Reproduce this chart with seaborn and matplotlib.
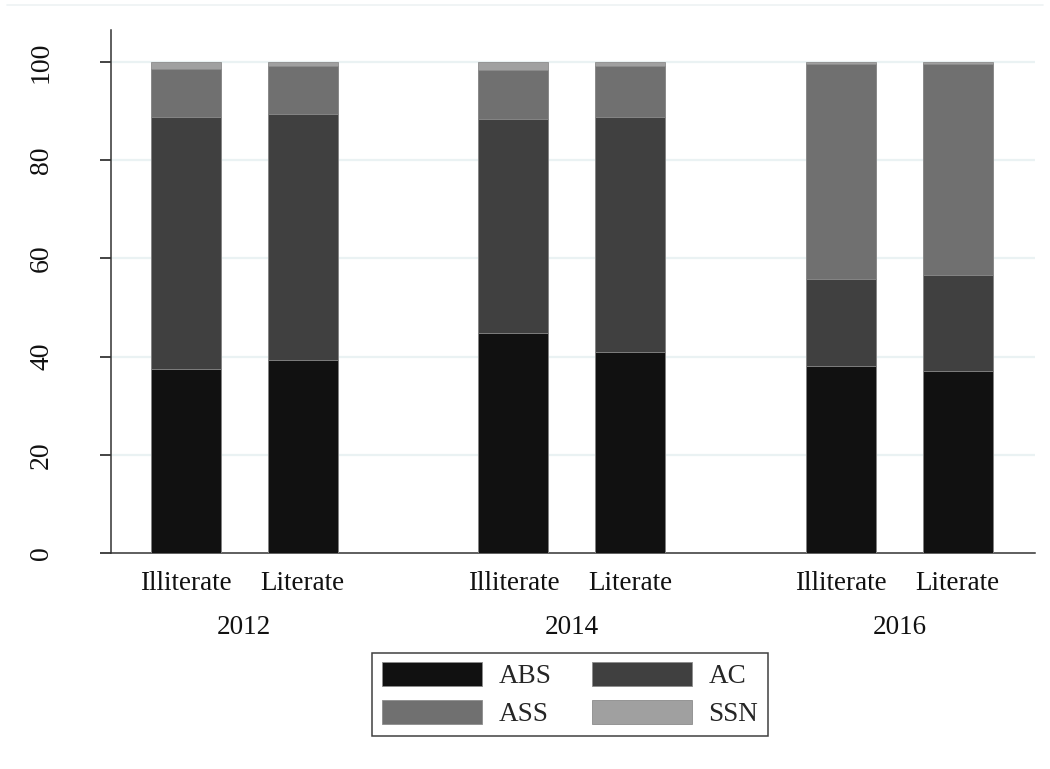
import numpy as np
import pandas as pd
import matplotlib
matplotlib.use("Agg")
import matplotlib.pyplot as plt
import seaborn as sns
from matplotlib.patches import Patch
from matplotlib.lines import Line2D

# Data: share (%) of each category by literacy status and survey year
years = ["2012", "2014", "2016"]
groups = ["Illiterate", "Literate"]
series = ["ABS", "AC", "ASS", "SSN"]
abs_vals = [37.5, 39.2, 44.9, 40.9, 38.1, 37.1]
ac_vals = [51.3, 50.2, 43.4, 47.9, 17.7, 19.5]
ass_vals = [9.8, 9.7, 10.1, 10.3, 43.8, 43.0]
ssn_vals = [1.4, 0.9, 1.6, 0.9, 0.4, 0.4]

colors = {"ABS": "#111111", "AC": "#404040", "ASS": "#707070", "SSN": "#a0a0a0"}

# Bar positions: two bars per year, with a wider gap between years
pos = [0.0, 1.0, 2.8, 3.8, 5.6, 6.6]
df = pd.DataFrame({"pos": pos, "ABS": abs_vals, "AC": ac_vals,
                   "ASS": ass_vals, "SSN": ssn_vals})
cum = df[series].cumsum(axis=1)

sns.set_theme(style="white")
plt.rcParams["font.family"] = ["Liberation Serif", "DejaVu Serif"]

fig = plt.figure(figsize=(10.5, 7.69), dpi=100)
ax = fig.add_axes([111 / 1050, (769 - 553) / 769, (1035 - 111) / 1050, (553 - 30) / 769])

# Faint outline along the top of the graph region
fig.add_artist(Line2D([7 / 1050, 1043 / 1050], [1 - 5 / 769, 1 - 5 / 769],
                      transform=fig.transFigure, color="#eef2f4", lw=1.2))

# Stacked bars: draw cumulative totals from the top layer down
for s in reversed(series):
    sns.barplot(x=df["pos"], y=cum[s], native_scale=True, width=0.6,
                color=colors[s], saturation=1, errorbar=None,
                edgecolor="#8c8c8c", linewidth=0.6, ax=ax, zorder=3)

ax.set_xlim(-0.64, 7.26)
ax.set_ylim(0, 106.5)
ax.set_yticks([0, 20, 40, 60, 80, 100])
ax.set_yticklabels(["0", "20", "40", "60", "80", "100"], rotation=90, va="center")
for y in [20, 40, 60, 80, 100]:
    ax.axhline(y, color="#eaf2f3", lw=1.6, zorder=1)

ax.set_xticks(pos)
ax.set_xticklabels(groups * 3)
ax.tick_params(axis="x", length=0, pad=13, labelsize=19.5, colors="#111111")
ax.tick_params(axis="y", length=8, width=1.1, pad=33, labelsize=20,
               colors="#111111", left=True, direction="out")
ax.set_xlabel("")
ax.set_ylabel("")

for side in ["top", "right"]:
    ax.spines[side].set_visible(False)
for side in ["left", "bottom"]:
    ax.spines[side].set_color("#333333")
    ax.spines[side].set_linewidth(1.1)

# Year labels under each pair of bars
for i, yr in enumerate(years):
    xc = (pos[2 * i] + pos[2 * i + 1]) / 2
    ax.text(xc, -75 / 523, yr, transform=ax.get_xaxis_transform(),
            ha="center", va="center", fontsize=19.5, color="#111111")

# Legend filled row by row: ABS, AC / ASS, SSN
leg_order = ["ABS", "ASS", "AC", "SSN"]
handles = [Patch(facecolor=colors[s], edgecolor="#8c8c8c", linewidth=0.6) for s in leg_order]
leg = fig.legend(handles, leg_order, loc="center", ncol=2,
                 bbox_to_anchor=(570 / 1050, 1 - 694.5 / 769),
                 fontsize=19.5, frameon=True, fancybox=False,
                 handlelength=3.7, handleheight=1.0, handletextpad=0.6,
                 columnspacing=1.5, borderpad=0.35, labelspacing=0.37)
leg.get_frame().set_edgecolor("#111111")
leg.get_frame().set_linewidth(1.1)

fig.savefig("out.png", dpi=100)
